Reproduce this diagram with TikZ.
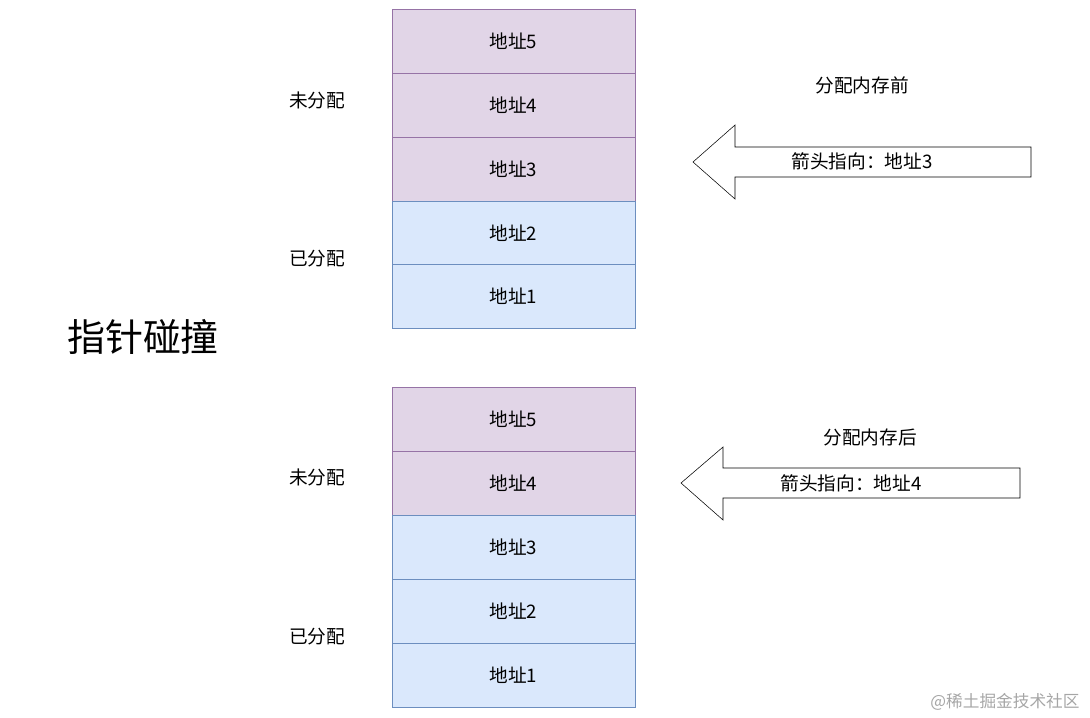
\documentclass[tikz,border=0pt]{standalone}
\usepackage{fontspec}
\setmainfont{Noto Sans CJK SC}
\usetikzlibrary{positioning}
\definecolor{freefill}{HTML}{E1D5E7}
\definecolor{freeline}{HTML}{9673A6}
\definecolor{usedfill}{HTML}{DAE8FC}
\definecolor{usedline}{HTML}{6C8EBF}
\tikzset{cell/.style={rectangle,minimum width=182.25pt,minimum height=48pt,inner sep=0pt,font=\fontsize{14}{16}\selectfont},
  note/.style={font=\fontsize{14}{16}\selectfont,inner sep=0pt}}
\newcommand{\freenode}{\node[cell,fill=freefill,draw=freeline]}
\newcommand{\usednode}{\node[cell,fill=usedfill,draw=usedline]}
\newcommand{\notenode}{\node[note]}

\begin{document}
\begin{tikzpicture}[x=0.75pt,y=-0.75pt]
      \useasboundingbox (0,0) rectangle (1090,718);
      %%%% before allocation
      \freenode (a5) at (513.5,41) {地址5};
      \freenode (a4) at (513.5,105) {地址4};
      \freenode (a3) at (513.5,169) {地址3};
      \usednode (a2) at (513.5,233) {地址2};
      \usednode (a1) at (513.5,296.5) {地址1};
      \notenode (free1) at (317,100) {未分配};
      \notenode (used1) at (317,259) {已分配};
      %%%% after allocation
      \freenode (b5) at (513.5,419) {地址5};
      \freenode (b4) at (513.5,483) {地址4};
      \usednode (b3) at (513.5,547) {地址3};
      \usednode (b2) at (513.5,611) {地址2};
      \usednode (b1) at (513.5,675) {地址1};
      \notenode (free2) at (317,477) {未分配};
      \notenode (used2) at (317,637) {已分配};
      %%%% title
      \node[inner sep=0pt,font=\fontsize{28.5}{32}\selectfont] (title) at (143,337) {指针碰撞};
      %%%% pointer arrows
      \draw[fill=white] (693,162) -- (735,125) -- (735,147) -- (1031,147) -- (1031,177) -- (735,177) -- (735,199) -- cycle;
      \notenode (ptr1) at (862,161) {箭头指向：地址3};
      \notenode (before) at (862,85) {分配内存前};
      \draw[fill=white] (681,483) -- (723,447) -- (723,468) -- (1020,468) -- (1020,498) -- (723,498) -- (723,520) -- cycle;
      \notenode (ptr2) at (851,483) {箭头指向：地址4};
      \notenode (after) at (870,437) {分配内存后};
      %%%% watermark
      \node[inner sep=0pt,text=black!35,font=\fontsize{12.5}{15}\selectfont] (mark) at (1005,702) {@稀土掘金技术社区};
    \end{tikzpicture}
\end{document}
